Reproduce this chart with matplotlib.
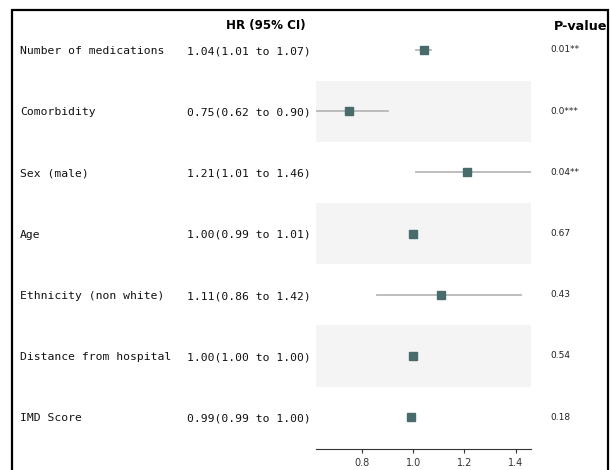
import matplotlib
matplotlib.use("Agg")
import matplotlib.pyplot as plt
from matplotlib.transforms import blended_transform_factory
from matplotlib.patches import Rectangle

labels = ["Number of medications", "Comorbidity", "Sex (male)", "Age",
          "Ethnicity (non white)", "Distance from hospital", "IMD Score"]
hr = [1.04, 0.75, 1.21, 1.00, 1.11, 1.00, 0.99]
lo = [1.01, 0.62, 1.01, 0.99, 0.86, 1.00, 0.99]
hi = [1.07, 0.90, 1.46, 1.01, 1.42, 1.00, 1.00]
pvals = ["0.01**", "0.0***", "0.04**", "0.67", "0.43", "0.54", "0.18"]
xticks = [0.8, 1.0, 1.2, 1.4]

W, H = 610, 470
fig = plt.figure(figsize=(W / 100, H / 100), dpi=100)
ax = fig.add_axes([316 / W, 1 - 449 / H, (531 - 316) / W, (449 - 19.4) / H])

n = len(labels)
ys = list(range(n))
for i in ys:
    if i % 2 == 1:
        ax.axhspan(i - 0.5, i + 0.5, color="#f4f4f4", zorder=0, lw=0)
    ax.plot([lo[i], hi[i]], [i, i], color="#b8b8b8", lw=1.3, zorder=1)
ax.plot(hr, ys, linestyle="none", marker="s", markersize=5.3,
        color="#4a6b6b", zorder=2)

ax.set_xlim(min(lo), max(hi))
ax.set_ylim(n - 0.48, -0.5)
ax.set_yticks([])
ax.set_xticks(xticks)
ax.set_xticklabels([f"{t:.1f}" for t in xticks])
ax.tick_params(axis="x", labelsize=7, colors="#333333", length=3, width=0.8)
for s in ["top", "right", "left"]:
    ax.spines[s].set_visible(False)
ax.spines["bottom"].set_color("#333333")

tr = blended_transform_factory(fig.transFigure, ax.transData)
for i in ys:
    ax.text(20 / W, i + 0.02, labels[i], transform=tr, family="DejaVu Sans Mono",
            fontsize=8.2, va="center", ha="left", clip_on=False, color="#111111")
    ax.text(187 / W, i + 0.02, f"{hr[i]:.2f}({lo[i]:.2f} to {hi[i]:.2f})",
            transform=tr, family="DejaVu Sans Mono", fontsize=8.2,
            va="center", ha="left", clip_on=False, color="#111111")
    ax.text(550 / W, i, pvals[i], transform=tr, fontsize=6.5,
            va="center", ha="left", clip_on=False, color="#222222")

fig.text(266 / W, 1 - 25 / H, "HR (95% CI)", fontsize=8.6, fontweight="bold",
         ha="center", va="center")
fig.text(580.5 / W, 1 - 26 / H, "P-value", fontsize=9.2, fontweight="bold",
         ha="center", va="center")

fig.patches.append(Rectangle((12.5 / W, -0.05), (608 - 12.5) / W, 1.05 - 10.5 / H,
                             transform=fig.transFigure, fill=False,
                             edgecolor="black", lw=1.6))

fig.savefig("out.png", dpi=100)
